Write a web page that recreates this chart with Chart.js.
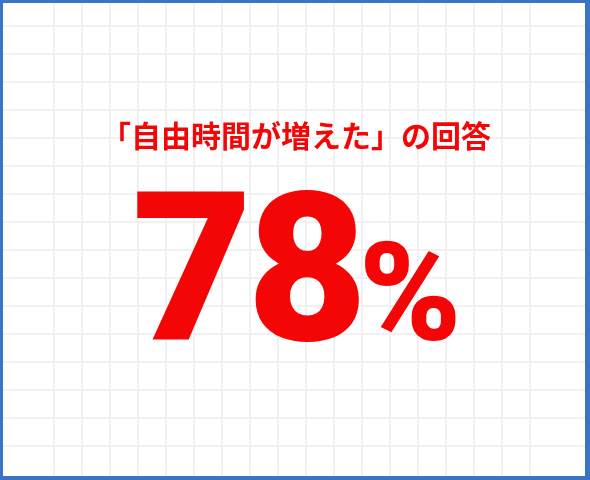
<!DOCTYPE html>
<html>
<head>
<meta charset="utf-8">
<script src="https://cdn.jsdelivr.net/npm/chart.js@4.4.1/dist/chart.umd.min.js"></script>
<style>
  html, body { margin: 0; padding: 0; background: #fff; }
  #wrap {
    width: 590px; height: 480px; box-sizing: border-box;
    border-style: solid; border-color: #3a74c6;
    border-width: 3px 5px 4px 3px;
    position: relative;
  }
  #wrap canvas { display: block; }
</style>
</head>
<body>
<div id="wrap"><canvas id="stat" width="582" height="473"></canvas></div>
<script>
// data
var questionLabel = ['「自由時間が増えた」', 'の回答'];
var answerValue = [78];
var valueUnit = ['%'];

var gridStep = 28;   // px between grid lines
var gridOffset = 23; // first line from the top-left of the canvas

var red = '#f50606';

var cnv = document.getElementById('stat');
var W = 582, H = 473;

// keep only whole-number ticks so the grid doesn't get lines at the edges
function wholeTicks(scale) {
    scale.ticks = scale.ticks.filter(function (t) { return Number.isInteger(t.value); });
}

var bigNumber = {
    id: 'bigNumber',
    afterDraw: function (chart) {
        var c = chart.ctx;
        var cx = (chart.chartArea.left + chart.chartArea.right) / 2;
        c.save();
        c.fillStyle = red;

        // question line
        c.font = 'bold 30px "Noto Sans CJK JP"';
        c.textBaseline = 'middle';
        c.textAlign = 'center';
        c.fillText(questionLabel.join(''), cx + 2, 133);

        // the big number: each glyph placed by its ink, tight spacing
        c.textBaseline = 'alphabetic';
        c.textAlign = 'left';
        var parts = [];
        String(answerValue[0]).split('').forEach(function (ch) {
            parts.push({ t: ch, font: '900 208px Roboto', gap: 11 });
        });
        parts.push({ t: valueUnit[0], font: '900 138px Roboto', gap: 6 });
        var total = 0;
        parts.forEach(function (p, i) {
            c.font = p.font;
            p.m = c.measureText(p.t);
            p.w = p.m.actualBoundingBoxLeft + p.m.actualBoundingBoxRight;
            total += p.w + (i ? p.gap : 0);
        });
        var x = cx + 2.5 - total / 2;
        var base = 337;
        parts.forEach(function (p, i) {
            if (i) x += p.gap;
            c.font = p.font;
            c.fillText(p.t, x + p.m.actualBoundingBoxLeft, base);
            x += p.w;
        });
        c.restore();
    }
};

new Chart(cnv.getContext('2d'), {
    type: 'scatter',
    data: { datasets: [{ data: [], pointRadius: 0 }] },
    options: {
        responsive: false,
        animation: false,
        devicePixelRatio: 1,
        layout: { padding: 0 },
        plugins: { legend: { display: false }, tooltip: { enabled: false } },
        scales: {
            x: {
                type: 'linear',
                min: -gridOffset / gridStep,
                max: (W - gridOffset) / gridStep,
                ticks: { display: false, stepSize: 1 },
                afterBuildTicks: wholeTicks,
                grid: { color: '#f1f1f1', lineWidth: 2, drawTicks: false },
                border: { display: false }
            },
            y: {
                type: 'linear',
                reverse: true,
                min: -gridOffset / gridStep,
                max: (H - gridOffset) / gridStep,
                ticks: { display: false, stepSize: 1 },
                afterBuildTicks: wholeTicks,
                grid: { color: '#f1f1f1', lineWidth: 2, drawTicks: false },
                border: { display: false }
            }
        }
    },
    plugins: [bigNumber]
});
</script>
</body>
</html>
